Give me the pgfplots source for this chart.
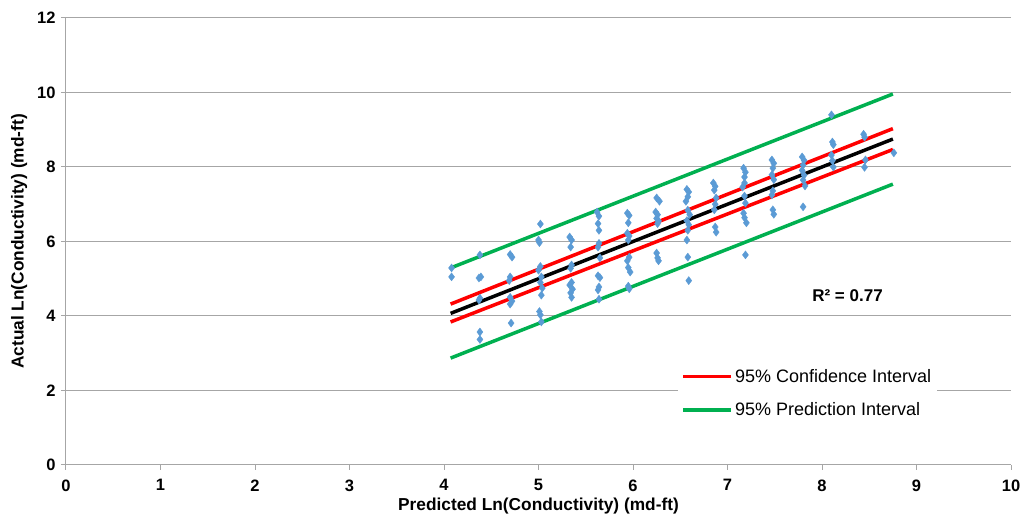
\documentclass[border=0pt]{standalone}
\usepackage{pgfplots}
\pgfplotsset{compat=1.18}
\usepackage{fontspec}
\setmainfont{Liberation Sans}
\definecolor{ptblue}{HTML}{5B9BD5}
\definecolor{cired}{HTML}{FF0000}
\definecolor{pigreen}{HTML}{00B050}
\definecolor{gridgray}{HTML}{A6A6A6}
\begin{document}
\begin{tikzpicture}
\begin{axis}[
scale only axis,
width=945pt,
height=447pt,
xmin=0, xmax=10,
ymin=0, ymax=12,
xtick={0,1,...,10},
ytick={0,2,...,12},
axis lines*=left,
axis line style={gridgray, line width=1pt},
ymajorgrids=true,
major grid style={gridgray, line width=1pt},
tick style={gridgray, line width=1pt},
major tick length=5pt,
tick align=outside,
/pgf/number format/assume math mode=true,
ticklabel style={font=\bfseries\fontsize{16.5}{16.5}\selectfont, text=black},
xticklabel style={yshift=-6pt},
yticklabel style={xshift=-2pt},
xlabel={Predicted Ln(Conductivity) (md-ft)},
ylabel={Actual Ln(Conductivity) (md-ft)},
label style={font=\bfseries\fontsize{17.3}{17.3}\selectfont},
xlabel style={yshift=0pt},
ylabel style={yshift=3pt},
legend style={at={(axis cs:6.47,2.74)}, anchor=north west, draw=none, fill=white,
  font=\fontsize{18}{18}\selectfont, row sep=15pt, inner sep=4pt},
legend cell align=left,
legend image code/.code={\draw[#1, line width=3.5pt] (0pt,0pt) -- (48pt,0pt);},
clip=false
]
% observed points
\addplot[only marks, mark=diamond*, mark size=4pt, draw=ptblue, fill=ptblue, forget plot] coordinates {
(4.08,5.29) (4.08,5.05)
(4.38,5.64) (4.39,5.05) (4.37,5.02) (4.38,4.48) (4.37,4.43) (4.38,3.57) (4.38,3.37)
(4.70,5.65) (4.72,5.58) (4.70,5.05) (4.69,4.95) (4.70,4.50) (4.72,4.40) (4.70,4.32) (4.71,3.81)
(5.02,6.47) (5.00,6.04) (5.01,5.97) (5.02,5.33) (5.00,5.23) (5.03,5.05) (5.02,4.90) (5.04,4.75) (5.03,4.56) (5.01,4.12) (5.02,4.03) (5.03,3.84)
(5.33,6.12) (5.35,6.04) (5.34,5.85) (5.35,5.37) (5.34,5.28) (5.35,4.90) (5.33,4.83) (5.36,4.72) (5.34,4.62) (5.35,4.50)
(5.62,6.79) (5.64,6.68) (5.63,6.48) (5.64,6.30) (5.64,5.95) (5.63,5.85) (5.65,5.56) (5.63,5.08) (5.65,5.03) (5.64,4.78) (5.63,4.70) (5.64,4.45)
(5.94,6.76) (5.96,6.70) (5.95,6.50) (5.94,6.22) (5.96,6.15) (5.95,6.04) (5.96,5.58) (5.94,5.48) (5.95,5.30) (5.97,5.18) (5.95,4.80) (5.96,4.73)
(6.25,7.17) (6.28,7.08) (6.24,6.79) (6.26,6.72) (6.25,6.62) (6.27,6.55) (6.26,6.48) (6.25,5.69) (6.26,5.56) (6.27,5.48)
(6.57,7.40) (6.59,7.33) (6.58,7.20) (6.56,7.08) (6.58,6.84) (6.60,6.72) (6.57,6.56) (6.59,6.45) (6.58,6.30) (6.57,6.04) (6.58,5.58) (6.59,4.95)
(6.85,7.57) (6.87,7.48) (6.86,7.38) (6.88,7.17) (6.87,7.00) (6.86,6.85) (6.87,6.39) (6.88,6.25)
(7.17,7.97) (7.19,7.86) (7.18,7.73) (7.18,7.57) (7.16,7.46) (7.18,7.22) (7.19,7.03) (7.17,6.76) (7.18,6.64) (7.20,6.50) (7.19,5.64)
(7.47,8.19) (7.49,8.10) (7.48,7.97) (7.47,7.79) (7.49,7.66) (7.48,7.36) (7.47,7.25) (7.48,6.85) (7.49,6.73)
(7.79,8.27) (7.81,8.18) (7.80,8.05) (7.79,7.91) (7.81,7.78) (7.80,7.65) (7.82,7.49) (7.80,6.93)
(8.10,9.40) (8.11,8.67) (8.12,8.60) (8.10,8.32) (8.11,8.17) (8.12,8.00)
(8.44,8.88) (8.45,8.80) (8.46,8.19) (8.45,7.99)
(8.76,8.38)
};
% confidence interval
\addplot[cired, line width=3.5pt] coordinates {(4.07,4.32) (8.75,9.03)};
\addlegendentry{95\% Confidence Interval}
% prediction interval
\addplot[pigreen, line width=3.5pt] coordinates {(4.07,5.29) (8.75,9.96)};
\addlegendentry{95\% Prediction Interval}
\addplot[cired, line width=3.5pt, forget plot] coordinates {(4.07,3.84) (8.75,8.47)};
\addplot[pigreen, line width=3.5pt, forget plot] coordinates {(4.07,2.87) (8.75,7.54)};
% fitted line
\addplot[black, line width=3.5pt, forget plot] coordinates {(4.07,4.07) (8.75,8.75)};
\node[font=\bfseries\fontsize{17}{17}\selectfont] at (axis cs:8.27,4.54) {R² = 0.77};
\end{axis}
\pgfresetboundingbox
\path ([xshift=-66pt,yshift=-53pt]current axis.south west) rectangle ([xshift=11pt,yshift=18pt]current axis.north east);
\end{tikzpicture}
\end{document}
